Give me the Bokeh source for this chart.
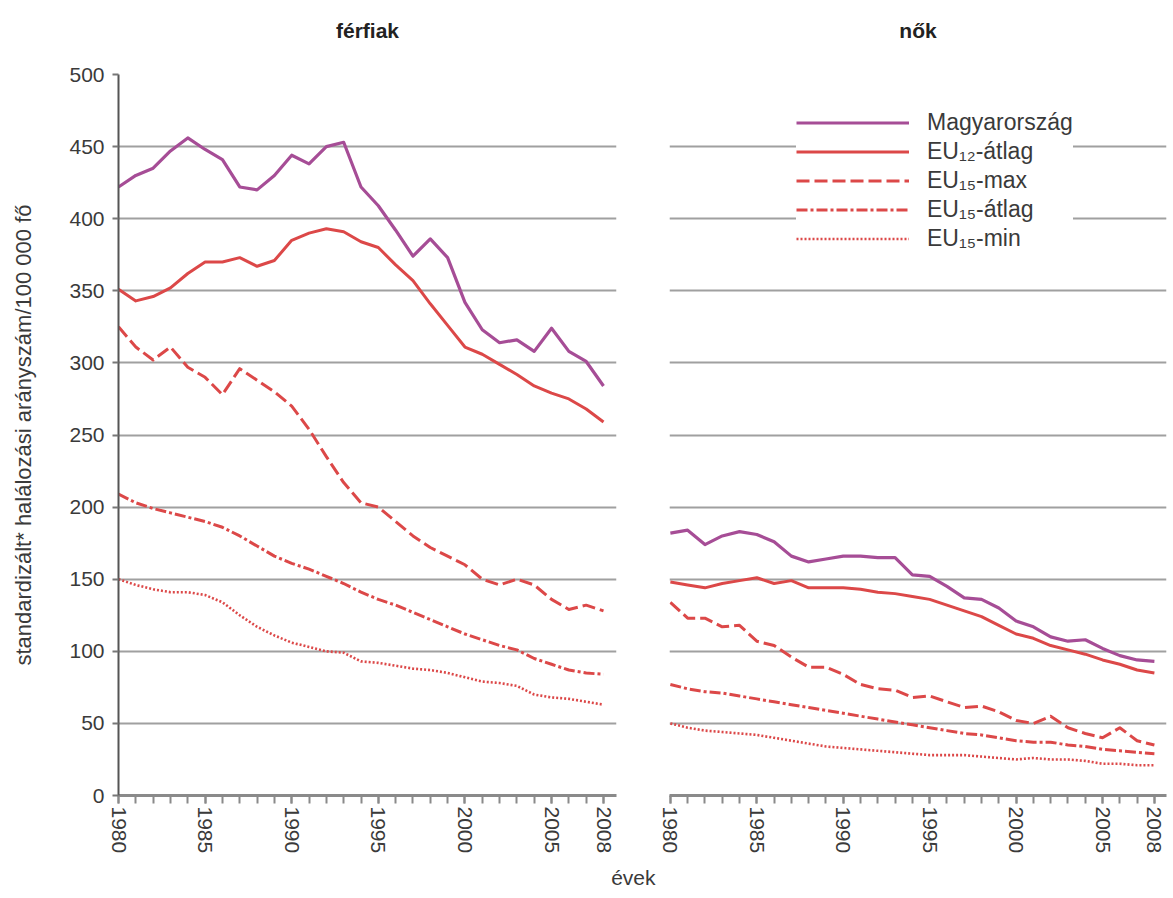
from bokeh.plotting import figure
from bokeh.layouts import row
from bokeh.models import Range1d, FixedTicker, Legend, LegendItem, Grid, Title
from bokeh.embed import file_html
from bokeh.resources import INLINE

# Standardised mortality rate per 100 000 population, 1980-2008
years = list(range(1980, 2009))

men_hu = [422, 430, 435, 447, 456, 448, 441, 422, 420, 430, 444, 438, 450, 453, 422,
          409, 392, 374, 386, 373, 342, 323, 314, 316, 308, 324, 308, 301, 284]
men_eu12_avg = [351, 343, 346, 352, 362, 370, 370, 373, 367, 371, 385, 390, 393, 391, 384,
                380, 368, 357, 341, 326, 311, 306, 299, 292, 284, 279, 275, 268, 259]
men_eu15_max = [325, 311, 302, 311, 297, 290, 278, 296, 288, 280, 270, 254, 235, 217, 203,
                200, 190, 180, 172, 166, 160, 150, 146, 150, 146, 136, 129, 132, 128]
men_eu15_avg = [209, 203, 199, 196, 193, 190, 186, 180, 173, 166, 161, 157, 152, 147, 141,
                136, 132, 127, 122, 117, 112, 108, 104, 101, 95, 91, 87, 85, 84]
men_eu15_min = [150, 146, 143, 141, 141, 139, 134, 125, 117, 111, 106, 103, 100, 99, 93,
                92, 90, 88, 87, 85, 82, 79, 78, 76, 70, 68, 67, 65, 63]

women_hu = [182, 184, 174, 180, 183, 181, 176, 166, 162, 164, 166, 166, 165, 165, 153,
            152, 145, 137, 136, 130, 121, 117, 110, 107, 108, 102, 97, 94, 93]
women_eu12_avg = [148, 146, 144, 147, 149, 151, 147, 149, 144, 144, 144, 143, 141, 140, 138,
                  136, 132, 128, 124, 118, 112, 109, 104, 101, 98, 94, 91, 87, 85]
women_eu15_max = [134, 123, 123, 117, 118, 107, 104, 96, 89, 89, 84, 77, 74, 73, 68,
                  69, 65, 61, 62, 58, 52, 50, 55, 47, 43, 40, 47, 38, 35]
women_eu15_avg = [77, 74, 72, 71, 69, 67, 65, 63, 61, 59, 57, 55, 53, 51, 49,
                  47, 45, 43, 42, 40, 38, 37, 37, 35, 34, 32, 31, 30, 29]
women_eu15_min = [50, 47, 45, 44, 43, 42, 40, 38, 36, 34, 33, 32, 31, 30, 29,
                  28, 28, 28, 27, 26, 25, 26, 25, 25, 24, 22, 22, 21, 21]

series_names = ["Magyarország", "EU₁₂-átlag", "EU₁₅-max", "EU₁₅-átlag", "EU₁₅-min"]
panel_titles = ["férfiak", "nők"]
y_ticks = list(range(0, 501, 50))
x_major = [1980, 1985, 1990, 1995, 2000, 2005, 2008]

FONT = "Liberation Sans"
PURPLE = "#a64d96"
RED = "#dc4848"
GRID = "#a0a0a0"
TXT = "#3a3a3a"

styles = [
    dict(color=PURPLE, width=3.2, dash="solid"),
    dict(color=RED, width=3.0, dash="solid"),
    dict(color=RED, width=3.0, dash="13 5"),
    dict(color=RED, width=3.0, dash="11 3 3 3"),
    dict(color=RED, width=2.6, dash="2 2"),
]

H = 896
TOP = 74
BOTTOM = H - 795


def make_panel(title, series, width, left, right, xr, show_y, title_offset):
    p = figure(width=width, height=H, output_backend="svg", toolbar_location=None,
               x_range=xr, y_range=Range1d(0, 500), title_location=None,
               min_border_left=left, min_border_right=right,
               min_border_top=TOP, min_border_bottom=BOTTOM,
               y_axis_location="left" if show_y else None,
               background_fill_color="white", border_fill_color="white")
    p.outline_line_color = None

    # blank strip between the plot area and the panel heading
    p.add_layout(Title(text=" ", text_font_size="2px", standoff=24), "above")
    p.add_layout(Title(text=title, align="center", offset=title_offset, standoff=10,
                       text_font=FONT, text_font_size="21px", text_font_style="bold",
                       text_color="#222222"), "above")

    p.xgrid.visible = False
    if show_y:
        ax = p.yaxis[0]
        ax.ticker = FixedTicker(ticks=y_ticks)
        ax.axis_line_color = "#555555"
        ax.axis_line_width = 2
        ax.major_tick_line_color = "#777777"
        ax.major_tick_line_width = 2
        ax.major_tick_out = 6
        ax.major_tick_in = 0
        ax.minor_tick_line_color = None
        ax.major_label_text_font = FONT
        ax.major_label_text_font_size = "21px"
        ax.major_label_text_color = TXT
        ax.major_label_standoff = 8
        ax.axis_label = "standardizált* halálozási arányszám/100 000 fő"
        ax.axis_label_text_font = FONT
        ax.axis_label_text_font_size = "22px"
        ax.axis_label_text_font_style = "normal"
        ax.axis_label_text_color = TXT
        ax.axis_label_standoff = 30
        p.ygrid.ticker = FixedTicker(ticks=y_ticks)
        p.ygrid.grid_line_color = GRID
        p.ygrid.grid_line_width = 2
    else:
        g = Grid(dimension=1, ticker=FixedTicker(ticks=y_ticks),
                 grid_line_color=GRID, grid_line_width=2)
        p.add_layout(g)

    xa = p.xaxis[0]
    xa.ticker = FixedTicker(ticks=x_major, minor_ticks=years)
    xa.axis_line_color = "#8a8a8a"
    xa.axis_line_width = 3
    xa.major_tick_line_color = "#8a8a8a"
    xa.major_tick_line_width = 2
    xa.minor_tick_line_color = "#8a8a8a"
    xa.minor_tick_line_width = 2
    xa.major_tick_out = 8
    xa.major_tick_in = 0
    xa.minor_tick_out = 8
    xa.minor_tick_in = 0
    xa.major_label_orientation = "vertical"
    xa.major_label_text_font = FONT
    xa.major_label_text_font_size = "21px"
    xa.major_label_text_color = TXT
    xa.major_label_standoff = 3

    renderers = []
    for ys, st in zip(series, styles):
        r = p.line(years, ys, line_color=st["color"], line_width=st["width"],
                   line_dash=st["dash"], line_join="round")
        renderers.append(r)
    return p, renderers


p1, r1 = make_panel(panel_titles[0],
                    [men_hu, men_eu12_avg, men_eu15_max, men_eu15_avg, men_eu15_min],
                    660, 118, 44, Range1d(1980, 2008.75), True, -15)
p2, r2 = make_panel(panel_titles[1],
                    [women_hu, women_eu12_avg, women_eu15_max, women_eu15_avg, women_eu15_min],
                    513, 9, 7, Range1d(1979.95, 2008.7), False, -5)

legend = Legend(items=[LegendItem(label=n, renderers=[r]) for n, r in zip(series_names, r2)],
                location=(127, 543), orientation="vertical",
                background_fill_color="white", background_fill_alpha=1.0,
                border_line_color=None, padding=15, spacing=2,
                glyph_width=113, glyph_height=25, label_height=25,
                label_standoff=18,
                label_text_font=FONT, label_text_font_size="23px",
                label_text_color=TXT)
p2.add_layout(legend)

# shared x-axis caption, centred between the two panels
p1.add_layout(Title(text="évek", align="right", offset=-39, standoff=14,
                    text_font=FONT, text_font_size="21px", text_font_style="normal",
                    text_color=TXT), "below")

layout = row(p1, p2)
open("out.html", "w").write(file_html(layout, INLINE))
